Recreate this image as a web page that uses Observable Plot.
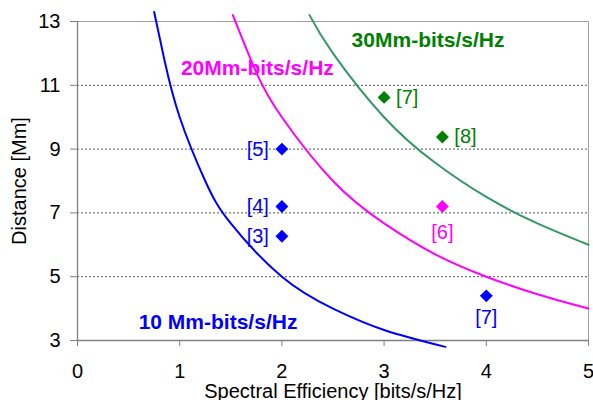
<!DOCTYPE html>
<html><head><meta charset="utf-8">
<script src="https://cdn.jsdelivr.net/npm/d3@7"></script>
<script src="https://cdn.jsdelivr.net/npm/@observablehq/plot@0.6"></script>
<style>body{margin:0;background:#fff}</style>
</head><body><div id="chart"></div>
<script>
// Curves
const curve10X = [0.75, 0.85, 1.0, 1.25, 1.5, 2.0, 2.5, 3.0, 3.6];
const curve10Y = [13.3, 11.8, 10.0, 8.0, 6.67, 5.0, 4.0, 3.33, 2.8];
const curve20X = [1.52, 1.75, 2.0, 2.5, 3.0, 3.5, 4.0, 4.5, 5.0];
const curve20Y = [13.2, 11.4, 10.0, 8.0, 6.67, 5.7, 5.0, 4.45, 4.0];
const curve30X = [2.27, 2.5, 3.0, 3.5, 4.0, 4.5, 5.0];
const curve30Y = [13.2, 12.0, 10.0, 8.57, 7.5, 6.67, 6.0];

// Reference points
const blueLeftRefs = ["[5]", "[4]", "[3]"];
const blueLeftX = [2, 2, 2];
const blueLeftY = [9.0, 7.2, 6.27];
const blueBelowRefs = ["[7]"];
const blueBelowX = [4.0];
const blueBelowY = [4.4];
const magentaRefs = ["[6]"];
const magentaX = [3.57];
const magentaY = [7.2];
const greenRefs = ["[7]", "[8]"];
const greenX = [3.0, 3.57];
const greenY = [10.62, 9.38];

// Curve labels
const curveLabels = ["10 Mm-bits/s/Hz", "20Mm-bits/s/Hz", "30Mm-bits/s/Hz"];
const curveLabelX = [1.375, 1.76, 3.43];
const curveLabelY = [3.58, 11.54, 12.4];

const xTicks = [0, 1, 2, 3, 4, 5];
const yTicks = [3, 5, 7, 9, 11, 13];
const gridY = [5, 7, 9, 11];

const BLUE = "#0000ff", MAG = "#ff00ff", GLINE = "#339966", GPT = "#008000";
const zip = (xs, ys, extra) => xs.map((x, i) => ({x, y: ys[i], t: extra ? extra[i] : null}));

const c10 = zip(curve10X, curve10Y), c20 = zip(curve20X, curve20Y), c30 = zip(curve30X, curve30Y);
const bl = zip(blueLeftX, blueLeftY, blueLeftRefs);
const bb = zip(blueBelowX, blueBelowY, blueBelowRefs);
const mg = zip(magentaX, magentaY, magentaRefs);
const gr = zip(greenX, greenY, greenRefs);
const cl = zip(curveLabelX, curveLabelY, curveLabels);
const clColors = [BLUE, MAG, GPT];

const chart = Plot.plot({
  width: 593, height: 400,
  marginTop: 21, marginRight: 5, marginBottom: 60, marginLeft: 77,
  style: {fontFamily: "'Liberation Sans', Arial, sans-serif", fontSize: "20px", background: "#fff", color: "#000"},
  x: {domain: [0, 5]},
  y: {domain: [3, 13]},
  marks: [
    Plot.ruleY(gridY, {stroke: "#555", strokeDasharray: "2,2", strokeWidth: 1}),
    Plot.ruleY([13], {stroke: "#a0a0a0", strokeWidth: 1}),
    Plot.ruleX([5], {stroke: "#a0a0a0", strokeWidth: 1}),
    Plot.ruleX([0], {stroke: "#808080", strokeWidth: 1.3}),
    Plot.ruleY([3], {stroke: "#808080", strokeWidth: 1.3}),
    Plot.axisX({ticks: xTicks, tickSize: 6, tickPadding: 17, stroke: "#808080", label: "Spectral Efficiency [bits/s/Hz]", labelAnchor: "center", labelArrow: "none", tickFormat: d => String(d)}),
    Plot.axisY({ticks: yTicks, tickSize: 7, tickPadding: 10, stroke: "#808080", label: "Distance [Mm]", labelAnchor: "center", labelArrow: "none", labelOffset: 66, tickFormat: d => String(d)}),
    Plot.line(c10, {x: "x", y: "y", stroke: BLUE, strokeWidth: 2, curve: "natural"}),
    Plot.line(c20, {x: "x", y: "y", stroke: MAG, strokeWidth: 2, curve: "natural"}),
    Plot.line(c30, {x: "x", y: "y", stroke: GLINE, strokeWidth: 2, curve: "natural"}),
    Plot.text(cl, {x: "x", y: "y", text: "t", fill: (d, i) => clColors[i], fontWeight: "bold", fontSize: 21}),
    Plot.dot(bl, {x: "x", y: "y", symbol: "diamond2", r: 5.8, fill: BLUE}),
    Plot.dot(bb, {x: "x", y: "y", symbol: "diamond2", r: 5.8, fill: BLUE}),
    Plot.dot(mg, {x: "x", y: "y", symbol: "diamond2", r: 5.8, fill: MAG}),
    Plot.dot(gr, {x: "x", y: "y", symbol: "diamond2", r: 5.8, fill: GPT}),
    Plot.text(bl, {x: "x", y: "y", text: "t", fill: BLUE, textAnchor: "end", dx: -13}),
    Plot.text(bb, {x: "x", y: "y", text: "t", fill: BLUE, dy: 22}),
    Plot.text(mg, {x: "x", y: "y", text: "t", fill: MAG, dy: 26}),
    Plot.text(gr, {x: "x", y: "y", text: "t", fill: GPT, textAnchor: "start", dx: 12})
  ]
});
document.getElementById("chart").appendChild(chart);
</script>
</body></html>
